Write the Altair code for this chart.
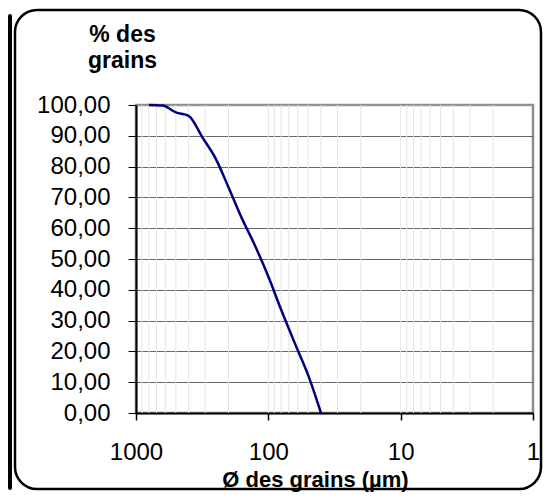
import altair as alt
import pandas as pd

# Grain-size distribution
diam = [800, 630, 500, 400, 315, 250, 200, 160, 125, 100, 80, 63, 50, 40]
pct = [100.0, 99.8, 97.6, 96.5, 89.5, 82.6, 73.3, 63.6, 54.0, 44.3, 33.5, 22.6, 12.3, 0.0]

x_ticks = [1, 10, 100, 1000]
y_ticks = [0, 10, 20, 30, 40, 50, 60, 70, 80, 90, 100]
minor_grid = [2, 3, 4, 5, 6, 7, 8, 9, 10,
              20, 30, 40, 50, 60, 70, 80, 90, 100,
              200, 300, 400, 500, 600, 700, 800, 900]

x_title = "Ø des grains (µm)"
y_title = ["% des", "grains"]

FONT = "Liberation Sans"

df = pd.DataFrame({"d": diam, "p": pct})
grid_df = pd.DataFrame({"g": minor_grid})
one = pd.DataFrame({"k": [0]})

xscale = alt.Scale(type="log", domain=[1, 1000], reverse=True)
yscale = alt.Scale(domain=[0, 100], nice=False)

x_axis = alt.Axis(
    values=x_ticks,
    grid=False,
    tickSize=7,
    tickColor="black",
    tickWidth=1.5,
    domainColor="black",
    domainWidth=2,
    labelFont=FONT,
    labelFontSize=24,
    labelColor="black",
    labelPadding=20,
    labelExpr="format(datum.value, 'd')",
    labelFlush=False,
    labelOverlap=False,
    title=x_title,
    titleFont=FONT,
    titleFontSize=22,
    titleFontWeight="bold",
    titleColor="black",
    titleX=179,
    titleY=73,
    titleAlign="center",
    titleBaseline="alphabetic",
)

y_axis = alt.Axis(
    values=y_ticks,
    grid=True,
    gridColor={"condition": {"test": "datum.value == 100", "value": "#9a9a9a"}, "value": "#666666"},
    gridWidth=1,
    tickSize=8,
    tickColor="black",
    tickWidth=1,
    domainColor="black",
    domainWidth=2,
    labelFont=FONT,
    labelFontSize=24,
    labelColor="black",
    labelPadding=18,
    labelExpr="replace(format(datum.value, '.2f'), '.', ',')",
    labelOverlap=False,
    title=y_title,
    titleFont=FONT,
    titleFontSize=23,
    titleFontWeight="bold",
    titleColor="black",
    titleAngle=0,
    titleX=-14,
    titleY=-82,
    titleAlign="center",
    titleBaseline="top",
    titleLineHeight=26,
)

frame = alt.Chart(one).mark_rect(
    fill="white", fillOpacity=0, stroke="black", strokeWidth=2.5, cornerRadius=22
).encode(
    x=alt.value(-121), x2=alt.value(405), y=alt.value(-95), y2=alt.value(384)
)

shadow = alt.Chart(one).mark_rect(color="black", cornerRadius=2).encode(
    x=alt.value(-128), x2=alt.value(-124), y=alt.value(-91), y2=alt.value(385)
)

minor = alt.Chart(grid_df).mark_rule(color="#e4e4e4", strokeWidth=1).encode(
    x=alt.X("g:Q", scale=xscale, axis=x_axis)
)

line = alt.Chart(df).mark_line(color="#000080", strokeWidth=2.5, interpolate="monotone").encode(
    x=alt.X("d:Q", scale=xscale, axis=x_axis),
    y=alt.Y("p:Q", scale=yscale, axis=y_axis),
)

chart = alt.layer(frame, shadow, minor, line).properties(
    width=397,
    height=308,
    autosize=alt.AutoSizeParams(type="none"),
    padding={"left": 128, "top": 97, "right": 10, "bottom": 79},
    background="white",
).configure_view(
    stroke="#8c8c8c", strokeWidth=2.5
)

chart.save("out.html", embed_options={"renderer": "svg", "actions": False})
